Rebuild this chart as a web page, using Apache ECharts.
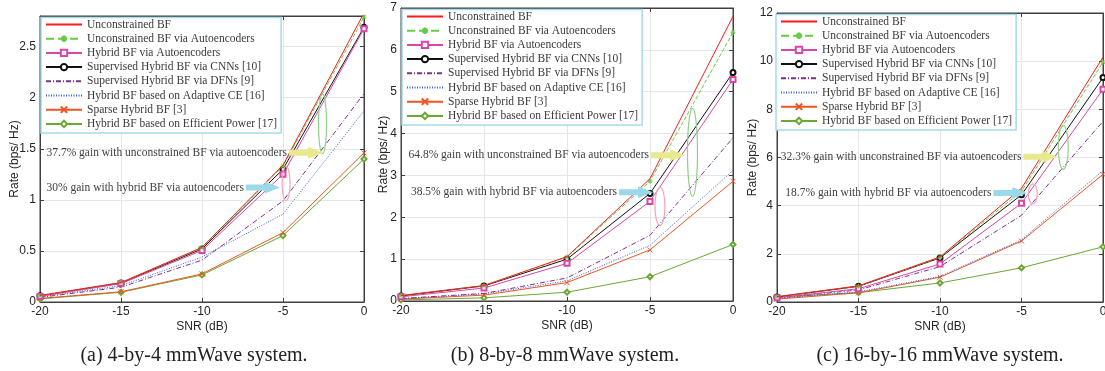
<!DOCTYPE html>
<html>
<head>
<meta charset="utf-8">
<script src="https://cdn.jsdelivr.net/npm/echarts@6/dist/echarts.min.js"></script>
<style>
  html, body { margin: 0; padding: 0; background: #fff; }
  #chart { width: 1105px; height: 371px; }
</style>
</head>
<body>
<div id="chart"></div>
<script>
// SNR points shared by all three panels
const snr = [-20, -15, -10, -5, 0];

const seriesNames = [
  "Unconstrained BF",
  "Unconstrained BF via Autoencoders",
  "Hybrid BF via Autoencoders",
  "Supervised Hybrid BF via CNNs [10]",
  "Supervised Hybrid BF via DFNs [9]",
  "Hybrid BF based on Adaptive CE [16]",
  "Sparse Hybrid BF [3]",
  "Hybrid BF based on Efficient Power [17]",
];

// rows follow seriesNames, columns follow snr
const rate4x4 = [
  [0.065, 0.19, 0.535, 1.34, 2.83],
  [0.06, 0.19, 0.53, 1.33, 2.79],
  [0.055, 0.18, 0.505, 1.25, 2.675],
  [0.06, 0.185, 0.52, 1.30, 2.69],
  [0.045, 0.145, 0.41, 0.99, 2.04],
  [0.05, 0.16, 0.44, 0.86, 1.87],
  [0.035, 0.10, 0.275, 0.68, 1.46],
  [0.03, 0.095, 0.265, 0.65, 1.40],
];
const rate8x8 = [
  [0.13, 0.37, 1.06, 2.92, 6.8],
  [0.13, 0.365, 1.05, 2.86, 6.42],
  [0.10, 0.31, 0.90, 2.38, 5.29],
  [0.12, 0.36, 1.00, 2.57, 5.46],
  [0.06, 0.18, 0.55, 1.57, 3.9],
  [0.055, 0.17, 0.48, 1.33, 3.12],
  [0.045, 0.14, 0.44, 1.22, 2.86],
  [0.025, 0.075, 0.21, 0.58, 1.35],
];
const rate16x16 = [
  [0.22, 0.67, 1.87, 4.72, 10.17],
  [0.22, 0.66, 1.85, 4.6, 9.96],
  [0.18, 0.55, 1.58, 4.1, 8.83],
  [0.21, 0.65, 1.83, 4.45, 9.32],
  [0.16, 0.5, 1.47, 3.6, 7.5],
  [0.15, 0.42, 1.06, 2.58, 5.46],
  [0.12, 0.38, 1.03, 2.53, 5.3],
  [0.2, 0.39, 0.79, 1.42, 2.29],
];
const panelRates = [rate4x4, rate8x8, rate16x16];

const yMax = [2.8, 7, 12];
const yStep = [0.5, 1, 2];

const captions = [
  "(a) 4-by-4 mmWave system.",
  "(b) 8-by-8 mmWave system.",
  "(c) 16-by-16 mmWave system.",
];
const gainUnconstrained = [
  "37.7% gain with unconstrained BF via autoencoders",
  "64.8% gain with unconstrained BF via autoencoders",
  "32.3% gain with unconstrained BF via autoencoders",
];
const gainHybrid = [
  "30% gain with hybrid BF via autoencoders",
  "38.5% gain with hybrid BF via autoencoders",
  "18.7% gain with hybrid BF via autoencoders",
];

// annotation anchors in data units: arrow tips and ellipse centres
const yellowTips = [[-2.53, 1.46], [-2.89, 3.48], [-2.8, 6.03]];
const cyanTips = [[-5.19, 1.12], [-4.82, 2.6], [-4.64, 4.53]];
const greenRings = [[-2.56, 1.745], [-2.44, 3.55], [-2.44, 6.42]];
const pinkRings = [[-4.81, 1.16], [-4.4, 2.26], [-4.31, 4.49]];

// ---- layout / style ----
const layouts = [
  { left: 40, top: 16, width: 324, height: 286, nameGap: 19, lgLeft: 41, lgTop: 17.5, capX: 194, greenR: [4, 30], pinkR: [4, 17] },
  { left: 401, top: 8, width: 332, height: 293, nameGap: 11, lgLeft: 402, lgTop: 9.5, capX: 565, greenR: [5, 44], pinkR: [5, 19] },
  { left: 777, top: 13, width: 326, height: 289, nameGap: 18, lgLeft: 776, lgTop: 14.5, capX: 940, greenR: [5, 22], pinkR: [4.5, 10] },
];

const ASTERISK = "path://M5,0L5,10M0,5L10,5M1.5,1.5L8.5,8.5M1.5,8.5L8.5,1.5";
const CROSS = "path://M0,0L10,10M0,10L10,0";

const styles = [
  { color: "#ff1a1a", type: "solid", symbol: "none" },
  { color: "#66cc44", type: "dashed", symbol: ASTERISK },
  { color: "#d846a8", type: "solid", symbol: "emptyRect" },
  { color: "#111111", type: "solid", symbol: "emptyCircle" },
  { color: "#7e2f8e", type: [5, 2, 1, 2], symbol: "none" },
  { color: "#3b5bd6", type: [1, 1.5], symbol: "none" },
  { color: "#ee5522", type: "solid", symbol: CROSS },
  { color: "#6aa832", type: "solid", symbol: "emptyDiamond" },
];

const SANS = "Liberation Sans";
const SERIF = "Liberation Serif";
const AXIS_COLOR = "#404040";
const LABEL_COLOR = "#262626";

const chart = echarts.init(document.getElementById("chart"), null, { renderer: "canvas" });

const grid = [], xAxis = [], yAxis = [], legend = [], series = [];

layouts.forEach((lay, p) => {
  grid.push({
    left: lay.left, top: lay.top, width: lay.width, height: lay.height,
    show: true, borderColor: AXIS_COLOR, borderWidth: 1, backgroundColor: "#fff",
    outerBoundsMode: "none",
  });
  const tick = { show: true, inside: true, length: 4, lineStyle: { color: AXIS_COLOR } };
  xAxis.push({
    type: "value", gridIndex: p, min: -20, max: 0, interval: 5,
    name: "SNR (dB)", nameLocation: "middle", nameGap: 19, nameMoveOverlap: false,
    nameTextStyle: { fontFamily: SANS, fontSize: 12, color: LABEL_COLOR },
    axisLine: { show: true, onZero: false, lineStyle: { color: AXIS_COLOR } },
    axisTick: tick,
    axisLabel: { margin: 4, fontFamily: SANS, fontSize: 12, color: LABEL_COLOR, showMinLabel: true, showMaxLabel: true },
    splitLine: { show: true, lineStyle: { color: "#e6e6e6" } },
  });
  yAxis.push({
    type: "value", gridIndex: p, min: 0, max: yMax[p], interval: yStep[p],
    name: "Rate (bps/ Hz)", nameLocation: "middle", nameGap: lay.nameGap, nameMoveOverlap: false,
    nameTextStyle: { fontFamily: SANS, fontSize: 12, color: LABEL_COLOR },
    axisLine: { show: true, onZero: false, lineStyle: { color: AXIS_COLOR } },
    axisTick: tick,
    axisLabel: { margin: 4, fontFamily: SANS, fontSize: 12, color: LABEL_COLOR, showMaxLabel: p !== 0 },
    splitLine: { show: true, lineStyle: { color: "#e6e6e6" } },
  });

  legend.push({
    orient: "vertical",
    left: lay.lgLeft, top: lay.lgTop,
    padding: [1, 4, 3, 4],
    itemWidth: 36, itemHeight: 8, itemGap: 2.2,
    selectedMode: false,
    backgroundColor: "#fff",
    borderColor: "#a6dbea", borderWidth: 1.5,
    lineStyle: { width: 2 },
    textStyle: { fontFamily: SERIF, fontSize: 11.5, lineHeight: 12, color: "#3a3a3a" },
    data: seriesNames.map((name, i) =>
      styles[i].symbol === "none" ? { name, itemStyle: { opacity: 0 } } : { name }
    ),
  });

  panelRates[p].forEach((row, i) => {
    const st = styles[i];
    series.push({
      type: "line", name: seriesNames[i],
      xAxisIndex: p, yAxisIndex: p,
      data: snr.map((x, k) => [x, row[k]]),
      symbol: st.symbol, symbolSize: 5,
      showSymbol: st.symbol !== "none",
      lineStyle: { color: st.color, width: 1, type: st.type },
      itemStyle: { color: st.color, borderColor: st.color, borderWidth: 1 },
      emphasis: { disabled: true },
      animation: false,
      z: 2 + (7 - i) * 0.1,
    });
  });
});

// top / right axes carry the inward ticks of the MATLAB box
layouts.forEach((lay, p) => {
  const tick = { show: true, inside: true, length: 4, lineStyle: { color: AXIS_COLOR } };
  xAxis.push({
    type: "value", gridIndex: p, position: "top", min: -20, max: 0, interval: 5,
    axisLine: { show: true, onZero: false, lineStyle: { color: AXIS_COLOR } },
    axisTick: tick, axisLabel: { show: false }, splitLine: { show: false },
  });
  yAxis.push({
    type: "value", gridIndex: p, position: "right", min: 0, max: yMax[p], interval: yStep[p],
    axisLine: { show: true, onZero: false, lineStyle: { color: AXIS_COLOR } },
    axisTick: tick, axisLabel: { show: false }, splitLine: { show: false },
  });
});

chart.setOption({
  animation: false,
  backgroundColor: "#fff",
  grid, xAxis, yAxis, legend, series,
});

// ---- annotations (arrows, rings, texts, captions) ----
function toPx(p, pt) { return chart.convertToPixel({ gridIndex: p }, pt); }

function arrow(tip, color) {
  const [x, y] = tip;
  const L = 34, hl = 15, sw = 3, hw = 6;
  return {
    type: "polygon", silent: true, z: 50,
    shape: { points: [[x - L, y - sw], [x - hl, y - sw], [x - hl, y - hw], [x, y], [x - hl, y + hw], [x - hl, y + sw], [x - L, y + sw]] },
    style: { fill: color },
  };
}
function ring(c, r, color) {
  return {
    type: "ellipse", silent: true, z: 50,
    shape: { cx: c[0], cy: c[1], rx: r[0], ry: r[1] },
    style: { fill: "none", stroke: color, lineWidth: 1.2 },
  };
}
function note(text, tip) {
  return {
    type: "text", silent: true, z: 50,
    x: tip[0] - 36, y: tip[1],
    style: { text, font: "11.5px " + SERIF, fill: "#404040", align: "right", verticalAlign: "middle" },
  };
}

const graphic = [];
layouts.forEach((lay, p) => {
  const yt = toPx(p, yellowTips[p]);
  const ct = toPx(p, cyanTips[p]);
  graphic.push(ring(toPx(p, greenRings[p]), lay.greenR, "#8fd08a"));
  graphic.push(ring(toPx(p, pinkRings[p]), lay.pinkR, "#f2a6b6"));
  graphic.push(arrow(yt, "#e8e88c"));
  graphic.push(arrow(ct, "#9ad8ea"));
  graphic.push(note(gainUnconstrained[p], yt));
  graphic.push(note(gainHybrid[p], ct));
  graphic.push({
    type: "text", silent: true,
    x: lay.capX, y: 356,
    style: { text: captions[p], font: "20px " + SERIF, fill: "#222", align: "center", verticalAlign: "middle" },
  });
});

chart.setOption({ graphic });
</script>
</body>
</html>
